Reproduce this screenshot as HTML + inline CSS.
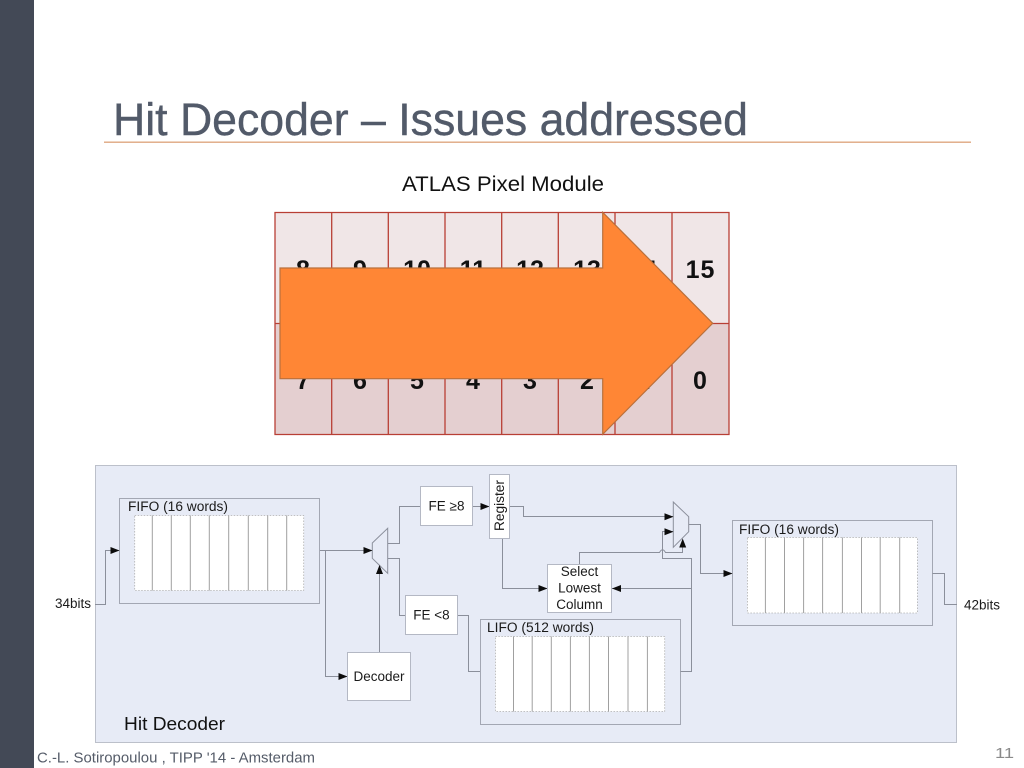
<!DOCTYPE html>
<html><head><meta charset="utf-8">
<style>
html,body{margin:0;padding:0;background:#fff;width:1024px;height:768px;overflow:hidden}
svg{display:block}
text{font-family:"Liberation Sans",sans-serif}
.l{fill:none;stroke:#8b8f9b;stroke-width:1}
.b{fill:#fff;stroke:#b4b8c4;stroke-width:1}
.f{fill:none;stroke:#a3a7b3;stroke-width:1}
.d{stroke:#a0a0a0;stroke-width:1}
.a{fill:#0c0c0c}
.t{font-size:13.5px;fill:#1a1a1a}
.n{font-size:25px;font-weight:bold;fill:#111;text-anchor:middle}
.c{fill:none;stroke:#b83f35;stroke-width:1.3}
</style></head><body>
<svg width="1024" height="768" viewBox="0 0 1024 768" xmlns="http://www.w3.org/2000/svg">
<rect x="0" y="0" width="34" height="768" fill="#434956"/>
<text x="113" y="135" font-size="45" fill="#525a69" stroke="#525a69" stroke-width="0.4" textLength="635" lengthAdjust="spacingAndGlyphs">Hit Decoder – Issues addressed</text>
<rect x="104" y="141.5" width="867" height="1.4" fill="#dfa882"/>
<text x="402" y="191" font-size="21" fill="#111" textLength="202" lengthAdjust="spacingAndGlyphs">ATLAS Pixel Module</text>

<!-- table -->
<rect x="275" y="212.5" width="454" height="111" fill="#f0e6e7"/>
<rect x="275" y="323.5" width="454" height="111" fill="#e4cfd0"/>
<path class="c" d="M275 212.5H729V434.5H275ZM275 323.5H729M331.7 212.5V434.5M388.3 212.5V434.5M445 212.5V434.5M501.7 212.5V434.5M558.3 212.5V434.5M615 212.5V434.5M672 212.5V434.5"/>
<g class="n">
<text x="303" y="278">8</text><text x="360" y="278">9</text><text x="417" y="278">10</text><text x="473" y="278">11</text><text x="530" y="278">12</text><text x="587" y="278">13</text><text x="643" y="278">14</text><text x="700.5" y="278" letter-spacing="1">15</text>
<text x="303" y="389">7</text><text x="360" y="389">6</text><text x="417" y="389">5</text><text x="473" y="389">4</text><text x="530" y="389">3</text><text x="587" y="389">2</text><text x="643" y="389">1</text><text x="700" y="389">0</text>
</g>
<polygon points="280,268 602.7,268 602.7,212.3 712.7,323.3 602.7,434.3 602.7,378.7 280,378.7" fill="#ff8635" stroke="#b9703c" stroke-width="1.2"/>

<!-- diagram panel -->
<rect x="95.5" y="465.5" width="861" height="277" fill="#e7ebf6" stroke="#bcc0ca" stroke-width="1"/>

<!-- FIFO 1 -->
<rect class="f" x="119.5" y="498.5" width="200" height="105"/>
<rect x="134.7" y="515.5" width="169" height="75" fill="#fff" stroke="#b0b0b0" stroke-width="0.8" stroke-dasharray="1.5 1.5"/>
<path class="d" d="M152.3 515.5V590.5M171.3 515.5V590.5M190.3 515.5V590.5M209.3 515.5V590.5M228.7 515.5V590.5M248.3 515.5V590.5M267.7 515.5V590.5M286.7 515.5V590.5"/>
<text class="t" x="128" y="511" textLength="100" lengthAdjust="spacingAndGlyphs">FIFO (16 words)</text>

<!-- FIFO 2 -->
<rect class="f" x="732.5" y="520.5" width="200" height="105"/>
<rect x="747.4" y="537.5" width="170" height="75.5" fill="#fff" stroke="#b0b0b0" stroke-width="0.8" stroke-dasharray="1.5 1.5"/>
<path class="d" d="M765.4 537.5V613M784.5 537.5V613M803.6 537.5V613M822.6 537.5V613M842.4 537.5V613M861.5 537.5V613M880.2 537.5V613M899.7 537.5V613"/>
<text class="t" x="739" y="534" textLength="100" lengthAdjust="spacingAndGlyphs">FIFO (16 words)</text>

<!-- LIFO -->
<rect class="f" x="480.5" y="619.5" width="200" height="105"/>
<rect x="495.4" y="636.5" width="169.3" height="75" fill="#fff" stroke="#b0b0b0" stroke-width="0.8" stroke-dasharray="1.5 1.5"/>
<path class="d" d="M513.5 636.5V711.5M532.2 636.5V711.5M551.3 636.5V711.5M570.4 636.5V711.5M589.4 636.5V711.5M608.5 636.5V711.5M628 636.5V711.5M647.4 636.5V711.5"/>
<text class="t" x="487" y="632" textLength="107" lengthAdjust="spacingAndGlyphs">LIFO (512 words)</text>

<!-- connectors -->
<path class="l" d="M95 604.5H105.5V550.5H119"/>
<path class="l" d="M320 550.5H372"/>
<path class="l" d="M325.5 550.5V676.5H347"/>
<path class="l" d="M379.5 652.5V566"/>
<path class="l" d="M388 543.5H399.5V506.5H420"/>
<path class="l" d="M388 558.5H399.5V615.5H405"/>
<path class="l" d="M457 615.5H468.5V671.5H480"/>
<path class="l" d="M472 506.5H489"/>
<path class="l" d="M509 506.5H523.5V516.5H673"/>
<path class="l" d="M502.5 538V588.5H547"/>
<path class="l" d="M579.5 564V552.5H659.5Q662.5 547 665.5 552.5H682.5V540"/>
<path class="l" d="M673 531.5H662.5V558.5H691.5V671.5H680.5"/>
<path class="l" d="M691.5 588.5H612"/>
<path class="l" d="M689 524.5H700.5V573.5H732"/>
<path class="l" d="M932.5 573.5H944.5V604.5H957"/>

<!-- muxes -->
<polygon points="372.3,543 387.7,528.3 387.7,573.3 372.3,558.3" fill="#e7ebf6" stroke="#8b8f9b" stroke-width="1"/>
<polygon points="673.3,502 688.7,516.7 688.7,531.7 673.3,547.3" fill="#e7ebf6" stroke="#8b8f9b" stroke-width="1"/>

<!-- arrowheads -->
<g class="a">
<polygon points="119.5,550.5 110.5,547 110.5,554"/>
<polygon points="372.5,550.5 363.5,547 363.5,554"/>
<polygon points="347.5,676.5 338.5,673 338.5,680"/>
<polygon points="379.5,565 376,574 383,574"/>
<polygon points="489.5,506.5 480.5,503 480.5,510"/>
<polygon points="547.5,588.5 538.5,585 538.5,592"/>
<polygon points="612,588.5 621,585 621,592"/>
<polygon points="673.5,516.7 664.5,513.2 664.5,520.2"/>
<polygon points="673.5,531.7 664.5,528.2 664.5,535.2"/>
<polygon points="682.7,538.5 679.2,547.5 686.2,547.5"/>
<polygon points="732.5,573.5 723.5,570 723.5,577"/>
</g>

<!-- blocks -->
<rect class="b" x="420.5" y="486.5" width="52" height="39"/>
<text class="t" x="446.5" y="510.5" text-anchor="middle">FE ≥8</text>
<rect class="b" x="405.5" y="595.5" width="52" height="39"/>
<text class="t" x="431.5" y="619.5" text-anchor="middle">FE &lt;8</text>
<rect class="b" x="347.5" y="652.5" width="63" height="48"/>
<text class="t" x="379" y="681" text-anchor="middle">Decoder</text>
<rect class="b" x="489.5" y="474.5" width="20" height="64"/>
<text class="t" transform="translate(504 505.5) rotate(-90)" text-anchor="middle" textLength="51" lengthAdjust="spacingAndGlyphs">Register</text>
<rect class="b" x="547.5" y="564.5" width="64" height="48"/>
<text class="t" x="579.5" y="576" text-anchor="middle">Select</text>
<text class="t" x="579.5" y="592.5" text-anchor="middle">Lowest</text>
<text class="t" x="579.5" y="609" text-anchor="middle">Column</text>

<text class="t" x="55" y="608" textLength="36" lengthAdjust="spacingAndGlyphs">34bits</text>
<text class="t" x="964" y="609.5" textLength="36" lengthAdjust="spacingAndGlyphs">42bits</text>
<text x="124" y="730" font-size="18" fill="#111" textLength="101" lengthAdjust="spacingAndGlyphs">Hit Decoder</text>

<text x="37" y="762.5" font-size="15" fill="#555c69" textLength="278" lengthAdjust="spacingAndGlyphs">C.-L. Sotiropoulou , TIPP '14 - Amsterdam</text>
<text x="995" y="758" font-size="14.5" fill="#8a8a8a" textLength="19" lengthAdjust="spacingAndGlyphs">11</text>
</svg>
</body></html>
